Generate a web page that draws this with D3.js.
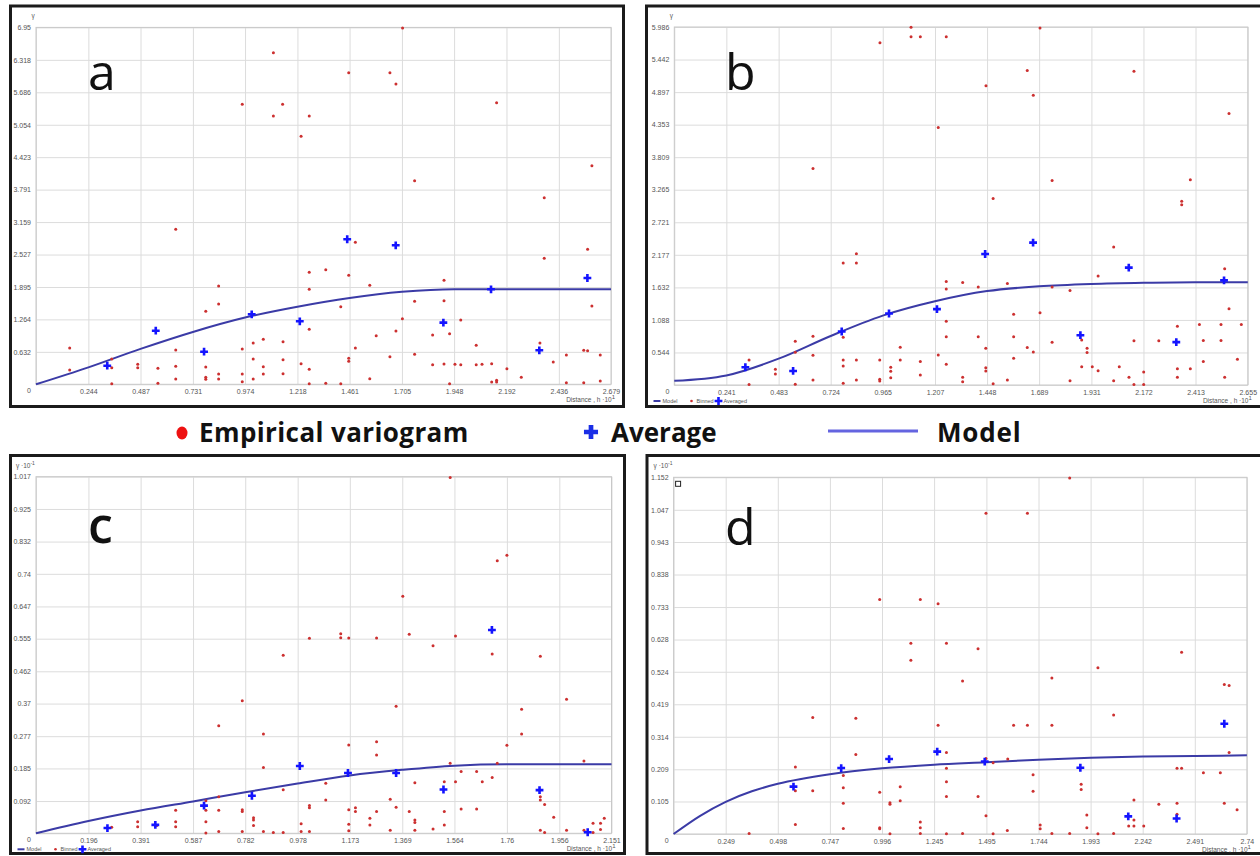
<!DOCTYPE html>
<html>
<head>
<meta charset="utf-8">
<script src="https://cdn.jsdelivr.net/npm/d3@7"></script>
<style>
  body { margin: 0; background: #fff; }
  svg { display: block; }
</style>
</head>
<body>
<svg id="chart" width="1260" height="856"></svg>
<script>
// ---- tick labels (as printed on the axes) ----
var aXTicks = ["0", "0.244", "0.487", "0.731", "0.974", "1.218", "1.461", "1.705", "1.948", "2.192", "2.436", "2.679"];
var aYTicks = ["0", "0.632", "1.264", "1.895", "2.527", "3.159", "3.791", "4.423", "5.054", "5.686", "6.318", "6.95"];
var bXTicks = ["0", "0.241", "0.483", "0.724", "0.965", "1.207", "1.448", "1.689", "1.931", "2.172", "2.413", "2.655"];
var bYTicks = ["0", "0.544", "1.088", "1.632", "2.177", "2.721", "3.265", "3.809", "4.353", "4.897", "5.442", "5.986"];
var cXTicks = ["0", "0.196", "0.391", "0.587", "0.782", "0.978", "1.173", "1.369", "1.564", "1.76", "1.956", "2.151"];
var cYTicks = ["0", "0.092", "0.185", "0.277", "0.37", "0.462", "0.555", "0.647", "0.74", "0.832", "0.925", "1.017"];
var dXTicks = ["0", "0.249", "0.498", "0.747", "0.996", "1.245", "1.495", "1.744", "1.993", "2.242", "2.491", "2.74"];
var dYTicks = ["0", "0.105", "0.209", "0.314", "0.419", "0.524", "0.628", "0.733", "0.838", "0.943", "1.047", "1.152"];

// ---- panel a ----
var aBinned = [
  [1.106, 6.457], [0.961, 5.452], [1.149, 5.452], [1.106, 5.225], [1.273, 5.225], [1.235, 4.829], [1.708, 6.94],
  [1.457, 6.068], [1.649, 6.068], [1.677, 5.848], [2.146, 5.484], [2.590, 4.257], [1.764, 3.965], [2.368, 3.634],
  [0.157, 0.707], [0.157, 0.278], [0.353, 0.493], [0.353, 0.323], [0.353, 0.01], [0.474, 0.389], [0.474, 0.323],
  [0.568, 0.312], [0.568, 0.019], [0.651, 3.018], [0.651, 0.668], [0.651, 0.350], [0.651, 0.103],
  [0.791, 1.422], [0.791, 0.337], [0.791, 0.136], [0.791, 0.097], [0.851, 1.914], [0.851, 1.564], [0.851, 0.201],
  [0.851, 0.103], [0.961, 0.687], [0.961, 0.201], [0.961, 0.051], [1.012, 0.804], [1.012, 0.493], [1.012, 0.103],
  [1.059, 0.876], [1.059, 0.343], [1.059, 0.201], [1.151, 0.830], [1.151, 0.479], [1.151, 0.206], [1.235, 0.401],
  [1.273, 2.181], [1.273, 1.850], [1.273, 1.071], [1.273, 0.292], [1.273, 0.01], [1.350, 2.232], [1.350, 0.019],
  [1.420, 1.511], [1.420, 0.01], [1.457, 2.123], [1.457, 0.506], [1.457, 0.448], [1.488, 2.765], [1.488, 0.707],
  [1.555, 1.928], [1.555, 0.109], [1.585, 0.946], [1.649, 0.537], [1.677, 1.038], [1.707, 1.277], [1.764, 1.616],
  [1.764, 0.584], [1.848, 0.960], [1.848, 0.382], [1.901, 2.025], [1.901, 1.628], [1.901, 0.395], [1.927, 0.985],
  [1.927, 0.012], [1.952, 0.389], [1.979, 1.252], [1.979, 0.382], [2.051, 0.759], [2.051, 0.382], [2.078, 0.389],
  [2.123, 0.401], [2.123, 0.045], [2.146, 0.078], [2.146, 0.045], [2.194, 0.304], [2.261, 0.136], [2.348, 0.804],
  [2.368, 2.454], [2.410, 0.434], [2.471, 0.571], [2.471, 0.031], [2.552, 0.662], [2.552, 0.031], [2.570, 2.629],
  [2.570, 0.654], [2.590, 1.525], [2.629, 0.571], [2.629, 0.064]
];
var aAveraged = [[0.332, 0.362], [0.558, 1.044], [0.783, 0.635], [1.005, 1.363], [1.229, 1.227], [1.450, 2.824],
  [1.676, 2.707], [1.898, 1.200], [2.120, 1.850], [2.345, 0.662], [2.569, 2.070]];
var aModelX = [0, 0.244, 0.487, 0.731, 0.974, 1.218, 1.461, 1.705, 1.948, 2.192, 2.436, 2.679];
var aModelY = [0, 0.33, 0.69, 1.02, 1.30, 1.51, 1.68, 1.80, 1.85, 1.85, 1.85, 1.85];

// ---- panel b ----
var bBinned = [
  [1.096, 5.98], [1.096, 5.823], [1.139, 5.823], [1.259, 5.823], [0.952, 5.723], [1.222, 4.304], [0.642, 3.622],
  [1.693, 5.969], [1.634, 5.260], [1.443, 5.002], [1.662, 4.846], [2.128, 5.248], [2.568, 4.539], [1.749, 3.420],
  [2.389, 3.432], [1.476, 3.119], [2.349, 3.073], [2.349, 3.013],
  [0.346, 0.419], [0.346, 0.01], [0.468, 0.263], [0.468, 0.184], [0.560, 0.733], [0.560, 0.548], [0.560, 0.012],
  [0.642, 0.817], [0.642, 0.498], [0.642, 0.084], [0.782, 2.040], [0.782, 0.800], [0.782, 0.419], [0.782, 0.319],
  [0.782, 0.029], [0.843, 2.196], [0.843, 2.040], [0.843, 0.419], [0.843, 0.084], [0.951, 0.419], [0.951, 0.096],
  [0.951, 0.067], [1.002, 0.297], [1.002, 0.230], [1.002, 0.122], [1.046, 0.632], [1.046, 0.419], [1.139, 0.391],
  [1.139, 0.168], [1.222, 0.503], [1.259, 1.732], [1.259, 1.605], [1.259, 1.068], [1.259, 0.805], [1.259, 0.347],
  [1.335, 1.715], [1.335, 0.129], [1.335, 0.055], [1.407, 1.638], [1.407, 0.805], [1.442, 0.615], [1.442, 0.290],
  [1.442, 0.235], [1.476, 0.022], [1.542, 1.698], [1.542, 0.084], [1.571, 1.185], [1.571, 0.805], [1.571, 0.448],
  [1.634, 0.625], [1.662, 0.553], [1.693, 1.207], [1.749, 1.638], [1.749, 0.716], [1.832, 1.581], [1.832, 0.072],
  [1.886, 0.754], [1.886, 0.307], [1.911, 0.615], [1.911, 0.542], [1.935, 0.307], [1.962, 1.823], [1.962, 0.240],
  [2.034, 2.309], [2.034, 0.072], [2.060, 0.307], [2.105, 0.129], [2.128, 0.738], [2.128, 0.01], [2.173, 0.218],
  [2.173, 0.01], [2.243, 0.738], [2.329, 0.984], [2.329, 0.273], [2.329, 0.129], [2.389, 0.273], [2.431, 1.011],
  [2.449, 0.743], [2.449, 0.391], [2.531, 1.011], [2.531, 0.743], [2.548, 1.945], [2.548, 0.129], [2.568, 1.274],
  [2.607, 0.431], [2.625, 1.011]
];
var bAveraged = [[0.329, 0.297], [0.550, 0.235], [0.775, 0.894], [0.994, 1.195], [1.216, 1.269], [1.439, 2.191],
  [1.661, 2.381], [1.880, 0.833], [2.104, 1.962], [2.324, 0.716], [2.545, 1.749]];
var bModelX = [0, 0.241, 0.483, 0.724, 0.965, 1.207, 1.448, 1.689, 1.931, 2.172, 2.413, 2.655];
var bModelY = [0.07, 0.16, 0.44, 0.82, 1.16, 1.40, 1.57, 1.65, 1.69, 1.71, 1.72, 1.72];

// ---- panel c (gamma x 10^-1) ----
var cBinned = [
  [1.022, 0.556], [0.924, 0.508], [0.771, 0.378], [0.683, 0.307], [0.850, 0.283], [0.850, 0.188], [0.924, 0.124],
  [1.022, 0.079], [1.022, 0.073], [0.991, 0.027], [0.991, 0.005], [1.022, 0.005], [0.924, 0.002], [0.887, 0.002],
  [0.850, 0.005], [0.813, 0.044], [0.813, 0.038], [0.813, 0.022], [0.771, 0.067], [0.771, 0.062], [0.771, 0.005],
  [0.683, 0.104], [0.683, 0.066], [0.683, 0.005], [0.635, 0.093], [0.635, 0.066], [0.635, 0.033], [0.635, 0.001],
  [0.522, 0.066], [0.522, 0.033], [0.522, 0.019], [0.380, 0.033], [0.380, 0.019], [0.283, 0.017], [0.451, 0.022],
  [1.548, 1.015], [1.760, 0.793], [1.724, 0.777], [1.371, 0.676], [1.139, 0.569], [1.139, 0.558], [1.169, 0.557],
  [1.273, 0.557], [1.395, 0.568], [1.484, 0.535], [1.568, 0.563], [1.705, 0.511], [1.885, 0.505], [1.983, 0.382],
  [1.815, 0.354], [1.815, 0.283], [1.346, 0.362], [1.760, 0.251], [1.169, 0.252], [1.273, 0.261], [1.273, 0.223],
  [1.548, 0.200], [1.724, 0.200], [2.048, 0.206], [1.589, 0.176], [1.647, 0.176], [1.416, 0.144], [1.526, 0.147],
  [1.568, 0.147], [1.668, 0.147], [1.705, 0.159], [1.083, 0.143], [1.083, 0.095], [1.324, 0.097], [1.169, 0.067],
  [1.194, 0.073], [1.194, 0.062], [1.273, 0.062], [1.346, 0.074], [1.395, 0.062], [1.526, 0.062], [1.589, 0.069],
  [1.647, 0.069], [1.885, 0.104], [1.885, 0.095], [1.901, 0.082], [1.935, 0.046], [1.248, 0.043], [1.248, 0.024],
  [1.169, 0.026], [1.169, 0.007], [1.416, 0.038], [1.416, 0.031], [1.416, 0.009], [1.324, 0.009], [1.484, 0.012],
  [1.526, 0.024], [1.885, 0.009], [1.901, 0.002], [1.983, 0.009], [2.048, 0.009], [2.082, 0.029], [2.082, 0.002],
  [2.110, 0.029], [2.110, 0.011], [2.124, 0.043]
];
var cAveraged = [[0.267, 0.015], [0.446, 0.024], [0.628, 0.079], [0.807, 0.107], [0.986, 0.192], [1.166, 0.172],
  [1.346, 0.172], [1.523, 0.125], [1.704, 0.580], [1.882, 0.123], [2.062, 0.003]];
var cModelX = [0, 0.196, 0.391, 0.587, 0.782, 0.978, 1.173, 1.369, 1.564, 1.76, 1.956, 2.151];
var cModelY = [0, 0.035, 0.065, 0.091, 0.117, 0.142, 0.165, 0.181, 0.193, 0.197, 0.197, 0.197];

// ---- panel d (gamma x 10^-1) ----
var dBinned = [
  [1.893, 1.150], [1.493, 1.036], [1.691, 1.036], [0.985, 0.757], [1.179, 0.757], [1.264, 0.744], [1.134, 0.616],
  [1.304, 0.616], [1.455, 0.598], [1.134, 0.561], [2.428, 0.587], [2.028, 0.537], [1.381, 0.494], [1.808, 0.504],
  [2.632, 0.483], [2.655, 0.480], [0.665, 0.376], [0.871, 0.374], [2.103, 0.384], [1.264, 0.351], [1.625, 0.351],
  [1.691, 0.351], [1.808, 0.351], [0.871, 0.257], [1.304, 0.263], [2.655, 0.263], [1.493, 0.244], [1.527, 0.230],
  [1.597, 0.242], [0.582, 0.216], [1.304, 0.212], [2.406, 0.212], [2.428, 0.212], [2.532, 0.198], [2.613, 0.198],
  [1.718, 0.191], [0.811, 0.189], [1.304, 0.169], [1.948, 0.161], [1.948, 0.144], [0.811, 0.149], [1.083, 0.153],
  [0.582, 0.140], [0.665, 0.140], [0.985, 0.135], [1.718, 0.138], [1.304, 0.121], [1.455, 0.121], [0.811, 0.099],
  [1.034, 0.101], [1.034, 0.096], [1.083, 0.107], [2.200, 0.110], [2.319, 0.096], [2.406, 0.099], [2.632, 0.099],
  [2.693, 0.078], [1.493, 0.059], [1.975, 0.061], [2.406, 0.064], [2.200, 0.045], [1.179, 0.039], [0.582, 0.031],
  [1.752, 0.029], [1.752, 0.017], [1.179, 0.020], [0.985, 0.020], [0.985, 0.017], [0.811, 0.018], [1.975, 0.020],
  [2.175, 0.026], [2.200, 0.026], [2.247, 0.026], [1.595, 0.011], [0.361, 0.002], [1.034, 0.001], [1.179, 0.002],
  [1.304, 0.001], [1.381, 0.002], [1.527, 0.001], [1.808, 0.002], [1.893, 0.002], [2.028, 0.001], [2.103, 0.002]
];
var dAveraged = [[0.573, 0.153], [0.801, 0.213], [1.030, 0.242], [1.260, 0.266], [1.487, 0.234], [1.944, 0.214],
  [2.173, 0.057], [2.404, 0.050], [2.632, 0.356]];
var dModelX = [0, 0.125, 0.249, 0.374, 0.498, 0.747, 0.996, 1.245, 1.495, 1.744, 1.993, 2.242, 2.491, 2.74];
var dModelY = [0, 0.058, 0.104, 0.138, 0.162, 0.193, 0.212, 0.224, 0.232, 0.240, 0.246, 0.250, 0.252, 0.254];

var svg = d3.select("#chart");
var tickFont = "'Liberation Sans', Arial, sans-serif";

function drawPanel(p) {
    var g = svg.append("g");

    // outer frame
    g.append("rect")
        .attr("x", p.frame[0]).attr("y", p.frame[1])
        .attr("width", p.frame[2] - p.frame[0]).attr("height", p.frame[3] - p.frame[1])
        .attr("fill", "#fff").attr("stroke", "#1b1b1b").attr("stroke-width", 3);

    var x = d3.scaleLinear().domain([0, +p.xTicks[p.xTicks.length - 1]]).range([p.left, p.right]);
    var y = d3.scaleLinear().domain([0, +p.yTicks[p.yTicks.length - 1]]).range([p.bottom, p.top]);

    var xAxis = d3.axisBottom(x)
        .tickValues(p.xTicks.map(Number))
        .tickSize(-(p.bottom - p.top))
        .tickPadding(5)
        .tickFormat((d, i) => i === 0 ? "" : p.xTicks[i]);
    var yAxis = d3.axisLeft(y)
        .tickValues(p.yTicks.map(Number))
        .tickSize(-(p.right - p.left))
        .tickPadding(5)
        .tickFormat((d, i) => p.yTicks[i]);

    g.append("g")
        .attr("transform", `translate(0,${p.bottom})`)
        .call(xAxis)
        .call(a => a.select(".domain").remove())
        .call(a => a.selectAll(".tick line").attr("stroke", "#dcdcdc"))
        .call(a => a.selectAll(".tick text").attr("fill", "#555").attr("font-family", tickFont).attr("font-size", 7));

    g.append("g")
        .attr("transform", `translate(${p.left},0)`)
        .call(yAxis)
        .call(a => a.select(".domain").remove())
        .call(a => a.selectAll(".tick line").attr("stroke", "#dcdcdc"))
        .call(a => a.selectAll(".tick text").attr("fill", "#555").attr("font-family", tickFont).attr("font-size", 7))
        .call(a => a.selectAll(".tick text").filter(d => d === 0).attr("dy", "1.15em"));

    // plot area border
    g.append("rect")
        .attr("x", p.left).attr("y", p.top)
        .attr("width", p.right - p.left).attr("height", p.bottom - p.top)
        .attr("fill", "none").attr("stroke", "#c8c8c8");

    // model curve
    var line = d3.line()
        .x(d => x(d[0]))
        .y(d => y(d[1]))
        .curve(d3.curveMonotoneX);
    g.append("path")
        .attr("d", line(d3.zip(p.modelX, p.modelY)))
        .attr("fill", "none")
        .attr("stroke", "#3b3ba6")
        .attr("stroke-width", 2);

    // binned points
    g.append("g").selectAll("circle")
        .data(p.binned)
        .join("circle")
        .attr("cx", d => x(d[0]))
        .attr("cy", d => y(d[1]))
        .attr("r", 1.5)
        .attr("fill", "#cc3030");

    // averaged points
    var cross = d3.symbol(d3.symbolCross, 34);
    g.append("g").selectAll("path")
        .data(p.averaged)
        .join("path")
        .attr("transform", d => `translate(${x(d[0])},${y(d[1])})`)
        .attr("d", cross)
        .attr("fill", "#1414ff");

    // big panel letter
    g.append("text")
        .attr("x", p.letterPos[0]).attr("y", p.letterPos[1])
        .attr("font-family", "'Open Sans', sans-serif")
        .attr("font-size", 50)
        .attr("font-weight", p.letterWeight || 400)
        .attr("fill", "#111")
        .text(p.letter);

    // axis titles
    var yt = g.append("text")
        .attr("x", p.left - 3).attr("y", p.top - 9)
        .attr("text-anchor", "middle")
        .attr("font-family", tickFont).attr("font-size", 6.5).attr("fill", "#555")
        .text(p.yScaled ? "γ ·10" : "γ");
    if (p.yScaled) {
        yt.attr("x", p.left - 20).attr("text-anchor", "start");
        yt.append("tspan").attr("dy", -3).attr("font-size", 5).text("-1");
    }
    var xt = g.append("text")
        .attr("x", p.right + 4).attr("y", p.bottom + 18)
        .attr("text-anchor", "end")
        .attr("font-family", tickFont).attr("font-size", 6.5).attr("fill", "#555")
        .text("Distance , h ·10");
    xt.append("tspan").attr("dy", -3).attr("font-size", 6).text("1");

    if (p.square) {
        g.append("rect")
            .attr("x", p.left + 2).attr("y", p.top + 4)
            .attr("width", 5).attr("height", 5)
            .attr("fill", "#fff").attr("stroke", "#222").attr("stroke-width", 1);
    }

    // small built-in legend
    if (p.miniLegend) {
        var lx = p.frame[0] + 7, ly = p.bottom + 16;
        var lg = g.append("g").attr("font-family", tickFont).attr("font-size", 5.5).attr("fill", "#555");
        lg.append("line").attr("x1", lx).attr("x2", lx + 7).attr("y1", ly).attr("y2", ly)
            .attr("stroke", "#3b3ba6").attr("stroke-width", 2);
        lg.append("text").attr("x", lx + 9).attr("y", ly + 2).text("Model");
        lg.append("circle").attr("cx", lx + 38).attr("cy", ly).attr("r", 1.3).attr("fill", "#cc3030");
        lg.append("text").attr("x", lx + 43).attr("y", ly + 2).text("Binned");
        lg.append("path").attr("transform", `translate(${lx + 65},${ly})`).attr("d", cross).attr("fill", "#1414ff");
        lg.append("text").attr("x", lx + 70).attr("y", ly + 2).text("Averaged");
    }
}

drawPanel({
    frame: [10.5, 6, 623.5, 406.5], left: 36, right: 611, top: 27.4, bottom: 384.3,
    xTicks: aXTicks, yTicks: aYTicks, binned: aBinned, averaged: aAveraged,
    modelX: aModelX, modelY: aModelY, letter: "a", letterPos: [88, 90]
});
drawPanel({
    frame: [646.5, 6, 1262, 406.5], left: 674.3, right: 1247.8, top: 27, bottom: 385,
    xTicks: bXTicks, yTicks: bYTicks, binned: bBinned, averaged: bAveraged,
    modelX: bModelX, modelY: bModelY, letter: "b", letterPos: [725, 90], miniLegend: true
});
drawPanel({
    frame: [10.5, 455.5, 624.5, 853.5], left: 36, right: 611.5, top: 476.7, bottom: 833.3,
    xTicks: cXTicks, yTicks: cYTicks, binned: cBinned, averaged: cAveraged,
    modelX: cModelX, modelY: cModelY, letter: "c", letterPos: [88, 543], letterWeight: 600,
    yScaled: true, miniLegend: true
});
drawPanel({
    frame: [647, 455.5, 1262, 853.5], left: 673.6, right: 1246.9, top: 477.3, bottom: 834,
    xTicks: dXTicks, yTicks: dYTicks, binned: dBinned, averaged: dAveraged,
    modelX: dModelX, modelY: dModelY, letter: "d", letterPos: [725, 545],
    yScaled: true, square: true
});

// ---- shared legend between the rows ----
var legend = svg.append("g")
    .attr("font-family", "'Open Sans', sans-serif")
    .attr("font-size", 26)
    .attr("font-weight", 700)
    .attr("fill", "#111");
legend.append("ellipse").attr("cx", 182).attr("cy", 433).attr("rx", 5.5).attr("ry", 6.5).attr("fill", "#ee1111");
legend.append("text").attr("x", 199).attr("y", 442).attr("letter-spacing", 0.4).text("Empirical variogram");
legend.append("path").attr("transform", "translate(591,432)").attr("d", d3.symbol(d3.symbolCross, 110)).attr("fill", "#1a2ee6");
legend.append("text").attr("x", 611).attr("y", 442).text("Average");
legend.append("line").attr("x1", 828).attr("x2", 918).attr("y1", 431).attr("y2", 431)
    .attr("stroke", "#6464e0").attr("stroke-width", 3);
legend.append("text").attr("x", 937).attr("y", 442).attr("letter-spacing", 0.8).text("Model");
</script>
</body>
</html>
